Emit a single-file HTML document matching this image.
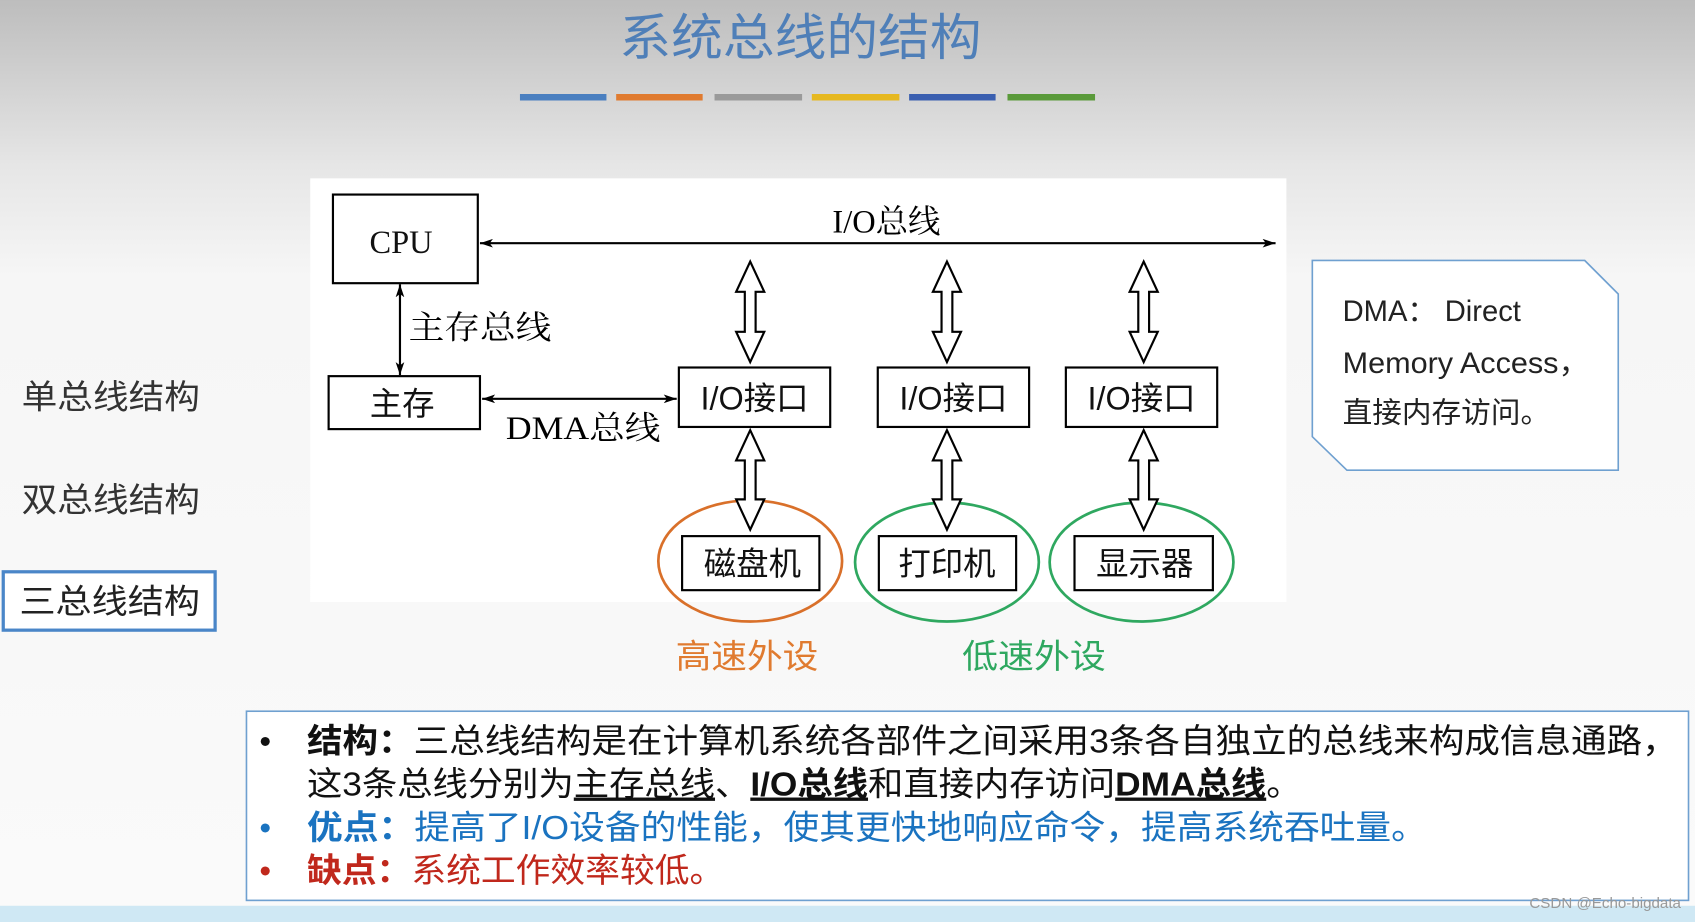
<!DOCTYPE html>
<html><head><meta charset="utf-8"><style>
html,body{margin:0;padding:0;width:1695px;height:922px;overflow:hidden;background:#fff}
svg{display:block}
text{font-family:"Liberation Sans","Noto Sans CJK SC",sans-serif}
.s{font-family:"Liberation Serif","Noto Serif CJK SC",serif}
</style></head><body>
<svg width="1695" height="922" viewBox="0 0 1568 853" preserveAspectRatio="none">
<defs>
<linearGradient id="bg" x1="0" y1="0" x2="0" y2="1">
<stop offset="0" stop-color="#bdbdbd"/><stop offset="0.18" stop-color="#e6e6e6"/><stop offset="0.3" stop-color="#f6f6f6"/><stop offset="1" stop-color="#fafafa"/>
</linearGradient>
<marker id="ah" viewBox="0 0 12 8" refX="12" refY="4" markerWidth="12" markerHeight="8" orient="auto-start-reverse" markerUnits="userSpaceOnUse"><path d="M0,0L12,4L0,8L3,4z" fill="#000"/></marker>
</defs>
<rect width="1568" height="853" fill="url(#bg)"/>
<text x="573" y="51" font-size="46" fill="#4f7fb8" textLength="335" lengthAdjust="spacingAndGlyphs">系统总线的结构</text>
<g stroke-width="6">
<line x1="481" y1="90" x2="561" y2="90" stroke="#4a7fc0"/>
<line x1="570" y1="90" x2="650" y2="90" stroke="#e07b30"/>
<line x1="661" y1="90" x2="742" y2="90" stroke="#9a9a9a"/>
<line x1="751" y1="90" x2="832" y2="90" stroke="#e6b820"/>
<line x1="841" y1="90" x2="921" y2="90" stroke="#3a5fb0"/>
<line x1="932" y1="90" x2="1013" y2="90" stroke="#5a9a3a"/>
</g>
<rect x="287" y="165" width="903" height="392" fill="#fff"/>
<g font-size="31">
<text x="20" y="378" fill="#333" textLength="165" lengthAdjust="spacingAndGlyphs">单总线结构</text>
<text x="20" y="473" fill="#333" textLength="165" lengthAdjust="spacingAndGlyphs">双总线结构</text>
<rect x="3" y="529" width="196" height="54" fill="#fff" stroke="#4a86c8" stroke-width="3"/>
<text x="18" y="567" fill="#222" textLength="167" lengthAdjust="spacingAndGlyphs">三总线结构</text>
</g>
<g fill="#fff" stroke="#000" stroke-width="2">
<rect x="308" y="180" width="134" height="82"/>
<rect x="304" y="348" width="140" height="49"/>
<rect x="628" y="340" width="140" height="55"/>
<rect x="812" y="340" width="140" height="55"/>
<rect x="986" y="340" width="140" height="55"/>
</g>
<g fill="none" stroke-width="2.5">
<ellipse cx="694" cy="519" rx="85" ry="56" stroke="#d9702a"/>
<ellipse cx="876" cy="520" rx="85" ry="55" stroke="#2fa860"/>
<ellipse cx="1056" cy="520" rx="85" ry="55" stroke="#2fa860"/>
</g>
<g fill="#fff" stroke="#000" stroke-width="2">
<rect x="631" y="496" width="127" height="50"/>
<rect x="813" y="496" width="127" height="50"/>
<rect x="994" y="496" width="128" height="50"/>
</g>
<g font-size="30" text-anchor="middle" fill="#111">
<text x="371" y="234" class="s">CPU</text>
<text x="372" y="384">主存</text>
<text x="698" y="379">I/O接口</text>
<text x="882" y="379">I/O接口</text>
<text x="1056" y="379">I/O接口</text>
<text x="696" y="532">磁盘机</text>
<text x="876" y="532">打印机</text>
<text x="1059" y="532">显示器</text>
</g>
<text x="820" y="215" font-size="30" text-anchor="middle" class="s">I/O总线</text>
<text x="378" y="313" font-size="30" class="s" textLength="132" lengthAdjust="spacingAndGlyphs">主存总线</text>
<text x="468" y="406" font-size="30" class="s" textLength="143" lengthAdjust="spacingAndGlyphs">DMA总线</text>
<g stroke="#000" stroke-width="2" marker-start="url(#ah)" marker-end="url(#ah)">
<line x1="444" y1="225" x2="1180" y2="225"/>
<line x1="370" y1="263" x2="370" y2="347"/>
<line x1="446" y1="369" x2="626" y2="369"/>
</g>
<g fill="#fff" stroke="#000" stroke-width="2">
<polygon points="694,242 707,270 699,270 699,307 707,307 694,335 681,307 689,307 689,270 681,270"/>
<polygon points="876,242 889,270 881,270 881,307 889,307 876,335 863,307 871,307 871,270 863,270"/>
<polygon points="1058,242 1071,270 1063,270 1063,307 1071,307 1058,335 1045,307 1053,307 1053,270 1045,270"/>
<polygon points="694,398 707,426 699,426 699,462 707,462 694,490 681,462 689,462 689,426 681,426"/>
<polygon points="876,398 889,426 881,426 881,462 889,462 876,490 863,462 871,462 871,426 863,426"/>
<polygon points="1058,398 1071,426 1063,426 1063,462 1071,462 1058,490 1045,462 1053,462 1053,426 1045,426"/>
</g>
<text x="625" y="618" font-size="31" fill="#e07b30" textLength="132" lengthAdjust="spacingAndGlyphs">高速外设</text>
<text x="890" y="618" font-size="31" fill="#2fa860" textLength="133" lengthAdjust="spacingAndGlyphs">低速外设</text>
<polygon points="1214,241 1466,241 1497,272 1497,435 1246,435 1214,404" fill="#fff" stroke="#6fa0d0" stroke-width="1.5"/>
<g font-size="27" fill="#222">
<text x="1242" y="297">DMA：  Direct</text>
<text x="1242" y="345" textLength="228" lengthAdjust="spacingAndGlyphs">Memory Access，</text>
<text x="1242" y="391" textLength="192" lengthAdjust="spacingAndGlyphs">直接内存访问。</text>
</g>
<rect x="228" y="658" width="1334" height="175" fill="#fff" stroke="#6fa0d0" stroke-width="1.5"/>
<g font-size="31">
<text x="240" y="696" fill="#111">•</text>
<text x="284" y="696" fill="#111" textLength="1268" lengthAdjust="spacingAndGlyphs"><tspan font-weight="bold">结构：</tspan>三总线结构是在计算机系统各部件之间采用3条各自独立的总线来构成信息通路，</text>
<text x="284" y="736" fill="#111" textLength="920" lengthAdjust="spacingAndGlyphs">这3条总线分别为<tspan text-decoration="underline">主存总线</tspan>、<tspan font-weight="bold" text-decoration="underline">I/O总线</tspan>和直接内存访问<tspan font-weight="bold" text-decoration="underline">DMA总线</tspan>。</text>
<text x="240" y="776" fill="#1a73c0">•</text>
<text x="284" y="776" fill="#1a73c0" textLength="1036" lengthAdjust="spacingAndGlyphs"><tspan font-weight="bold">优点：</tspan>提高了I/O设备的性能，使其更快地响应命令，提高系统吞吐量。</text>
<text x="240" y="816" fill="#c0281c">•</text>
<text x="284" y="816" fill="#c0281c" textLength="386" lengthAdjust="spacingAndGlyphs"><tspan font-weight="bold">缺点：</tspan>系统工作效率较低。</text>
</g>
<rect x="0" y="838" width="1568" height="15" fill="#cfe8f4"/>
<text x="1555" y="840" font-size="14" fill="#999" text-anchor="end">CSDN @Echo-bigdata</text>
</svg>
</body></html>
